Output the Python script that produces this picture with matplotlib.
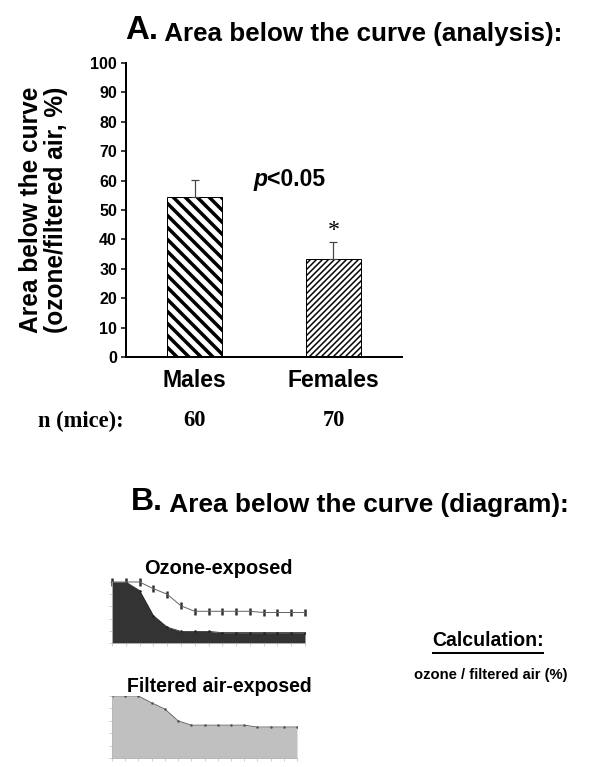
import matplotlib.pyplot as plt
import numpy as np

plt.rcParams['font.family'] = 'Liberation Sans'
plt.rcParams['font.weight'] = 'bold'

# panel A data
groups = ['Males', 'Females']
area = [54.5, 33.5]          # area below the curve, ozone/filtered air (%)
sem = [5.8, 5.5]
n_mice = [60, 70]
hatches = ['\\\\', '////']
hatch_lw = [3.5, 1.5]

# panel B diagram data (15 time points, % of baseline)
steps = list(range(15))
ozone_line = [100, 100, 100, 89, 80, 61, 52, 52, 52, 52, 52, 50, 50, 50, 50]
ozone_err = [6, 6, 6, 6, 6, 6, 6, 6, 6, 6, 6, 6, 6, 6, 6]
ozone_area = [100, 100, 86, 45, 26, 19, 19, 19, 17, 17, 17, 17, 17, 17, 17]
air_area = [100, 100, 100, 89, 79, 60, 53, 53, 53, 53, 53, 50, 50, 50, 50]

W, H = 600, 767
fig = plt.figure(figsize=(W / 72, H / 72), dpi=72)


def box(l, t, r, b):
    return [l / W, 1 - b / H, (r - l) / W, (b - t) / H]


def ftext(x, y, s, **kw):
    return fig.text(x / W, 1 - y / H, s, **kw)


# ---- A. bar chart
ax = fig.add_axes(box(126, 63, 402, 357))
x = np.arange(len(groups))
for i in range(len(groups)):
    plt.rcParams['hatch.linewidth'] = hatch_lw[i]
    b = ax.bar(x[i], area[i], width=0.4, color='white', edgecolor='black',
               hatch=hatches[i], linewidth=1)
    try:
        b[0].set_hatch_linewidth(hatch_lw[i])
    except AttributeError:
        pass
ax.errorbar(x, area, yerr=[[0, 0], sem], fmt='none', ecolor='#444444',
            elinewidth=1.2, capsize=4, capthick=1.2)
ax.set_xlim(-0.493, 1.493)
ax.set_ylim(0, 100)
ax.set_yticks(range(0, 101, 10))
ax.set_xticks(x)
ax.set_xticklabels(groups, fontsize=23, fontweight='bold')
ax.tick_params(axis='x', length=0, pad=12)
ax.tick_params(axis='y', labelsize=16, length=5, width=1.5, pad=4)
for s in ['top', 'right']:
    ax.spines[s].set_visible(False)
ax.spines['left'].set_linewidth(2)
ax.spines['bottom'].set_linewidth(2)
ax.set_ylabel('Area below the curve\n(ozone/filtered air, %)', fontsize=24.5,
              fontweight='bold', labelpad=22, linespacing=1.05)

t = ax.text(0.421, 58, 'p', fontsize=23, fontstyle='italic',
            fontweight='bold', va='baseline')
ax.annotate('<0.05', xy=(1, 0), xycoords=t, fontsize=23, fontweight='bold',
            va='bottom')
ax.text(x[1], area[1] + sem[1] + 0.3, '*', fontsize=24,
        family='Liberation Serif', ha='center', va='bottom',
        fontweight='normal')

# titles and labels
ta = ftext(125, 39, 'A.', fontsize=33, fontweight='bold', va='baseline')
plt.annotate(' Area below the curve (analysis):', xy=(1, 0), xycoords=ta,
             fontsize=26, fontweight='bold', va='bottom',
             annotation_clip=False)

ftext(38, 421, 'n (mice):', fontsize=22.5, family='Liberation Serif',
      fontweight='bold', va='center')
for cx, n in zip([194.5, 333.5], n_mice):
    ftext(cx, 421, str(n), fontsize=22.5, family='Liberation Serif',
          fontweight='bold', va='center', ha='center')

tb = ftext(131, 510, 'B.', fontsize=32, fontweight='bold', va='baseline')
plt.annotate(' Area below the curve (diagram):', xy=(1, 0), xycoords=tb,
             fontsize=26.3, fontweight='bold', va='bottom',
             annotation_clip=False)


def small_axes(ax2, n):
    ax2.set_xlim(0, n - 1)
    ax2.set_ylim(0, 100)
    ax2.set_xticks(range(n))
    ax2.set_yticks(range(0, 101, 20))
    ax2.set_xticklabels([])
    ax2.set_yticklabels([])
    ax2.tick_params(length=3, width=0.6, color='#b0b0b0')
    for s in ['top', 'right']:
        ax2.spines[s].set_visible(False)
    for s in ['left', 'bottom']:
        ax2.spines[s].set_color('#b0b0b0')
        ax2.spines[s].set_linewidth(0.8)
    ax2.patch.set_alpha(0)


# ozone-exposed diagram
ax2 = fig.add_axes(box(112, 582, 305, 643))
small_axes(ax2, len(steps))
ax2.fill_between(steps, ozone_area, color='#333333', linewidth=0)
ax2.plot(steps, ozone_area, color='#222222', marker='.', markersize=3,
         linewidth=0.8)
ax2.errorbar(steps, ozone_line, yerr=ozone_err, color='#666666', linewidth=1,
             ecolor='#333333', elinewidth=2.5, capsize=0, clip_on=False)
ftext(218, 568, 'Ozone-exposed', fontsize=20, fontweight='bold', ha='center',
      va='center')

# filtered air-exposed diagram
ax3 = fig.add_axes(box(112, 696, 297, 758))
small_axes(ax3, len(steps))
ax3.fill_between(steps, air_area, color='#c0c0c0', linewidth=0)
ax3.plot(steps, air_area, color='#555555', marker='.', markersize=3,
         linewidth=0.8)
ftext(219, 687, 'Filtered air-exposed', fontsize=19.5, fontweight='bold',
      ha='center', va='center')

ftext(488, 641, 'Calculation:', fontsize=19.5, fontweight='bold', ha='center',
      va='center')
fig.add_artist(plt.Line2D([433 / W, 543 / W], [1 - 653 / H, 1 - 653 / H],
                          color='black', linewidth=2))
ftext(491, 675, 'ozone / filtered air (%)', fontsize=14.7, fontweight='bold',
      ha='center', va='center')

fig.savefig('out.png', dpi=72)
